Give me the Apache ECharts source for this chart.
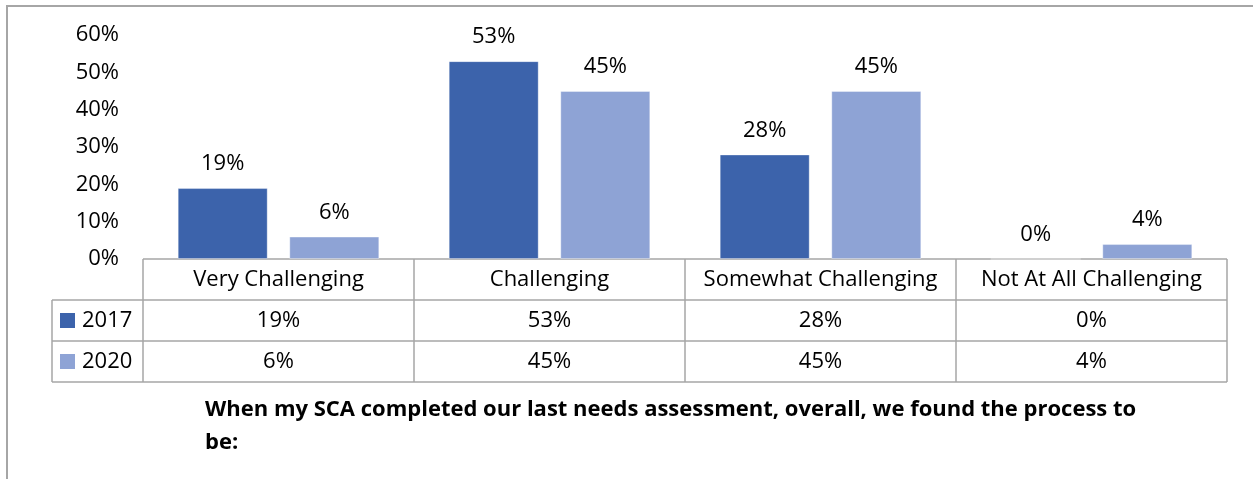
<!DOCTYPE html>
<html>
<head>
<meta charset="utf-8">
<script src="https://cdn.jsdelivr.net/npm/echarts@6/dist/echarts.min.js"></script>
<style>
  html, body { margin: 0; padding: 0; background: #fff; }
  #mydiv { width: 1253px; height: 479px; }
</style>
</head>
<body>
<div id="mydiv"></div>
<script>
// 数据
var categories = ['Very Challenging', 'Challenging', 'Somewhat Challenging', 'Not At All Challenging'];
var years = ['2017', '2020'];
var values2017 = [0.19, 0.53, 0.28, 0.00];
var values2020 = [0.06, 0.45, 0.45, 0.04];
var yTicks = [0, 0.1, 0.2, 0.3, 0.4, 0.5, 0.6];
var colors = ['#3C63AB', '#8EA3D5'];
var caption = 'When my SCA completed our last needs assessment, overall, we found the process to be:';

var FONT = 'Open Sans';
var FS = 22;
var lineColor = '#A6A6A6';

function pct(v) { return Math.round(v * 100) + '%'; }

var echart = echarts.init(document.getElementById('mydiv'), null, { renderer: 'canvas' });

var option = {
    animation: false,
    textStyle: { fontFamily: FONT, color: '#000' },
    grid: { left: 143, right: 26, top: 35, bottom: 220 },
    xAxis: {
        type: 'category',
        data: categories,
        axisLine: { show: false },
        axisTick: { show: false },
        axisLabel: { show: false }
    },
    yAxis: {
        type: 'value',
        min: yTicks[0],
        max: yTicks[yTicks.length - 1],
        interval: 0.1,
        splitLine: { show: false },
        axisLine: { show: false },
        axisTick: { show: false },
        axisLabel: {
            margin: 24,
            fontSize: FS,
            fontFamily: FONT,
            color: '#000',
            formatter: function (v) { return pct(v); }
        }
    },
    series: [values2017, values2020].map(function (vals, i) {
        return {
            name: years[i],
            type: 'bar',
            data: vals,
            barWidth: 90,
            barGap: '24%',
            itemStyle: { color: colors[i], borderColor: 'rgba(255,255,255,0.35)', borderWidth: 1 },
            label: {
                show: true,
                position: 'top',
                distance: 13,
                fontSize: FS,
                fontFamily: FONT,
                color: '#000',
                formatter: function (p) { return pct(p.value); }
            }
        };
    })
};

echart.setOption(option);

// 表格 + 标题 + 边框
function buildTable() {
    var x0 = echart.convertToPixel({ xAxisIndex: 0 }, 0);
    var x1 = echart.convertToPixel({ xAxisIndex: 0 }, 1);
    var band = x1 - x0;
    var left = x0 - band / 2;
    var right = left + band * categories.length;
    var top = echart.convertToPixel({ yAxisIndex: 0 }, 0);
    var rowH = 41;
    var legendLeft = 52;
    var els = [];
    var ls = { stroke: lineColor, lineWidth: 1.5 };

    // 外框
    els.push({ type: 'polyline', shape: { points: [[7, 479], [7, 6], [1253, 6]] }, style: { stroke: lineColor, lineWidth: 2, fill: null } });

    // 横线
    els.push({ type: 'line', shape: { x1: left, y1: top, x2: right, y2: top }, style: ls });
    for (var r = 1; r <= 3; r++) {
        els.push({ type: 'line', shape: { x1: legendLeft, y1: top + rowH * r, x2: right, y2: top + rowH * r }, style: ls });
    }
    // 竖线
    els.push({ type: 'line', shape: { x1: legendLeft, y1: top + rowH, x2: legendLeft, y2: top + rowH * 3 }, style: ls });
    for (var c = 0; c <= categories.length; c++) {
        els.push({ type: 'line', shape: { x1: left + band * c, y1: top, x2: left + band * c, y2: top + rowH * 3 }, style: ls });
    }
    // 类别名
    categories.forEach(function (name, i) {
        els.push({ type: 'text', x: left + band * (i + 0.5), y: top + rowH * 0.5,
            style: { text: name, fontSize: FS, fontFamily: FONT, fill: '#000', align: 'center', verticalAlign: 'middle' } });
    });
    // 数据行
    [values2017, values2020].forEach(function (vals, r) {
        var cy = top + rowH * (r + 1.5);
        els.push({ type: 'rect', shape: { x: 60, y: cy - 7.5, width: 15, height: 15 }, style: { fill: colors[r] } });
        els.push({ type: 'text', x: 82, y: cy,
            style: { text: years[r], fontSize: FS, fontFamily: FONT, fill: '#000', align: 'left', verticalAlign: 'middle' } });
        vals.forEach(function (v, i) {
            els.push({ type: 'text', x: left + band * (i + 0.5), y: cy,
                style: { text: pct(v), fontSize: FS, fontFamily: FONT, fill: '#000', align: 'center', verticalAlign: 'middle' } });
        });
    });
    // 标题
    els.push({ type: 'text', x: 205, y: 393,
        style: { text: caption, width: 960, overflow: 'break', lineHeight: 33, fontSize: 22, fontWeight: 'bold', fontFamily: FONT, fill: '#000', align: 'left', verticalAlign: 'top' } });

    echart.setOption({ graphic: { elements: els } });
}
buildTable();
</script>
</body>
</html>
